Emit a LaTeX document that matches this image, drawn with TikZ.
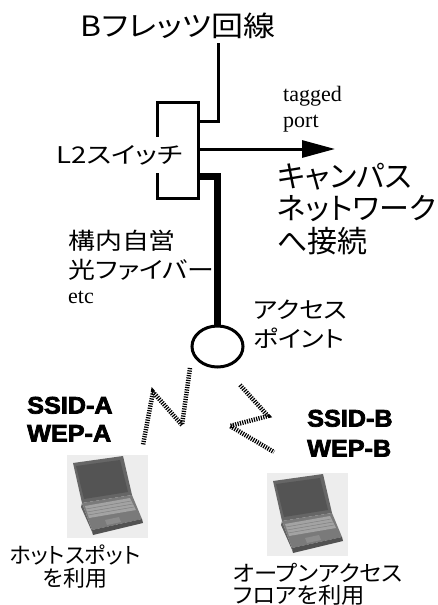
\documentclass[tikz,border=0pt]{standalone}
\usepackage{fontspec}
\usepackage{graphicx}
\usetikzlibrary{arrows.meta,shapes.geometric}
\setmainfont{Liberation Serif}
\newfontfamily\jp[RawFeature=+palt]{Noto Sans CJK JP}
\newfontfamily\heavy[BoldFeatures={FakeBold=3}]{Liberation Sans}
% horizontally widened text
\newcommand\wj[2]{\scalebox{#1}[1]{#2}}

\tikzset{
  conn/.style={line width=3pt},
  fiber/.style={line width=7pt},
  radio/.style={line width=4.5pt, dash pattern=on 1.2pt off 1.2pt},
  txt/.style={inner sep=0pt, anchor=base west},
  jpfont/.style={font=\jp\fontsize{#1}{#1}\selectfont},
  ssid/.style={font=\heavy\bfseries\fontsize{24}{24}\selectfont},
  serif/.style={font=\rmfamily\fontsize{22}{22}\selectfont},
  laptop/.pic={
    % photo backdrop
    \fill[black!7] (0,0) rectangle (81,83);
    % lid and screen
    \fill[black!60] (6,8) -- (56,1) -- (65,40) -- (15,48) -- cycle;
    \fill[black!67] (9,11) -- (53,5) -- (61,37) -- (17,44) -- cycle;
    % left side of the base
    \fill[black!62] (15,48) -- (25,75) -- (26,79) -- (14,52) -- cycle;
    % top of the base
    \fill[black!52] (15,48) -- (65,40) -- (75,64) -- (25,75) -- cycle;
    % keyboard
    \fill[black!36] (18,51) -- (63,43) -- (69,55) -- (22,63) -- cycle;
    \draw[black!50, line width=0.5pt]
      (19,54) -- (64,46)  (20,57) -- (66,49)  (21,60) -- (67,52);
    % touch pad
    \fill[black!45] (38,65) -- (52,62) -- (54,67) -- (40,70) -- cycle;
    % front edge
    \fill[black!68] (25,75) -- (75,64) -- (76,68) -- (26,80) -- cycle;
  }
}

\begin{document}
\begin{tikzpicture}[x=1pt,y=-1pt]
\useasboundingbox (0,0) rectangle (438,605);

% line coming in from the top
\node[inner sep=0pt, anchor=base, jpfont=28] (title) at (178,36.4) {\wj{1.14}{Bフレッツ回線}};
\coordinate (bf) at (218,43);

% layer-2 switch
\node[draw, conn, minimum width=41pt, minimum height=96pt, inner sep=0pt] (sw) at (177.5,150) {};
\draw[conn] ([yshift=29pt]sw.east) -| (bf);
\node[fill=white, inner xsep=1pt, minimum height=36pt, jpfont=23] (swlabel) at (119.5,155) {\wj{1.2}{L2スイッチ}};

% tagged port to the campus network
\coordinate (cn) at (335,149);
\draw[conn, -{Triangle[length=33pt,width=17pt]}] (sw.east |- cn) -- (cn);
\node[txt, serif] (tag1) at (283,101) {tagged};
\node[txt, serif] (tag2) at (283,127) {port};
\node[txt, jpfont=30] (camp1) at (277,187) {キャンパス};
\node[txt, jpfont=30] (camp2) at (277,219.5) {ネットワーク};
\node[txt, jpfont=30] (camp3) at (277,252) {へ接続};

% access point on the private fibre
\node[draw, conn, ellipse, minimum width=51pt, minimum height=41pt, inner sep=0pt] (ap) at (217.5,346.5) {};
\draw[fiber] ([yshift=-26.5pt,xshift=-1.5pt]sw.east) -| (ap.north);
\node[txt, jpfont=23] (fib1) at (68,249.5) {\wj{1.17}{構内自営}};
\node[txt, jpfont=23] (fib2) at (68,278.5) {\wj{1.17}{光ファイバー}};
\node[txt, serif] (fib3) at (68,303) {etc};
\node[txt, jpfont=23] (ap1) at (253,318.5) {\wj{1.13}{アクセス}};
\node[txt, jpfont=23] (ap2) at (253,347.5) {\wj{1.13}{ポイント}};

% radio links
\draw[radio] (190,368) -- (182,425) -- (153,392) -- (143,445);
\draw[radio] (240,385) -- (268,416) -- (230,426) -- (274,452);

% SSID / WEP settings
\node[txt, ssid] (ssa) at (27,413.6) {\wj{1.05}{SSID-A}};
\node[txt, ssid] (wpa) at (27,441.6) {\wj{1.05}{WEP-A}};
\node[txt, ssid] (ssb) at (307,426.6) {\wj{1.05}{SSID-B}};
\node[txt, ssid] (wpb) at (307,456.6) {\wj{1.05}{WEP-B}};

% clients
\pic at (67,455) {laptop};
\pic at (267,473) {laptop};

\node[inner sep=0pt, anchor=base, jpfont=22] (hs1) at (75,563) {ホットスポット};
\node[inner sep=0pt, anchor=base, jpfont=22] (hs2) at (75,586) {を利用};
\node[txt, jpfont=22] (of1) at (233,581) {\wj{1.06}{オープンアクセス}};
\node[txt, jpfont=22] (of2) at (233,603) {\wj{1.06}{フロアを利用}};
\end{tikzpicture}
\end{document}
